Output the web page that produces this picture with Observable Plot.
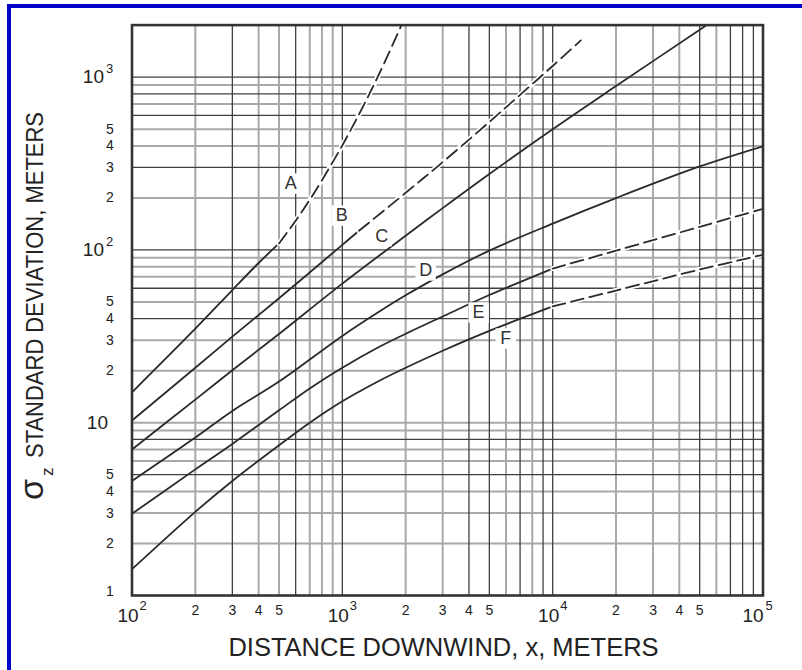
<!DOCTYPE html>
<html>
<head>
<meta charset="utf-8">
<script src="https://cdn.jsdelivr.net/npm/d3@7"></script>
<script src="https://cdn.jsdelivr.net/npm/@observablehq/plot@0.6"></script>
<style>
  html, body { margin: 0; padding: 0; background: #fff; }
  #wrap { position: relative; width: 802px; height: 670px; overflow: hidden; font-family: "Liberation Sans", Arial, sans-serif; }
  #border { position: absolute; left: 7px; top: 4px; width: 800px; height: 700px; border-left: 4px solid #0505c8; border-top: 4px solid #0505c8; border-right: 4px solid #0505c8; box-sizing: border-box; }
  #chart { position: absolute; left: 0; top: 0; }
</style>
</head>
<body>
<div id="wrap"><div id="border"></div><div id="chart"></div></div>
<script>
// ---- data (distance x in m, sigma_z in m) ----
const classA_solid_x = [100, 200, 300, 400, 500];
const classA_solid_y = [15, 35, 58.6, 84, 109];
const classA_dash_x = [500, 600, 700, 800, 1000, 1200, 1400, 1600, 1900];
const classA_dash_y = [109, 147.5, 195, 253, 403, 609, 883, 1241, 1968];

const classB_solid_x = [100, 200, 300, 500, 1000, 1200];
const classB_solid_y = [10.3, 20.8, 31.5, 52.5, 107, 129];
const classB_dash_x = [1200, 2000, 3000, 5000, 7000, 10000, 13600];
const classB_dash_y = [129, 214, 322, 550, 790, 1160, 1630];

const classC_x = [100, 200, 300, 500, 1000, 2000, 3000, 5000, 10000, 20000, 53400];
const classC_y = [7.0, 13.6, 20.1, 32.6, 63.8, 120.7, 174.5, 275, 499, 887, 1983];

const classD_x = [100, 200, 300, 500, 1000, 1500, 2000, 3000, 5000, 10000, 20000, 50000, 100000];
const classD_y = [4.6, 8.2, 11.7, 17.3, 31.8, 44, 54.6, 72.2, 99.1, 142, 199.5, 304, 398];

const classE_solid_x = [100, 200, 300, 500, 700, 1000, 1500, 2000, 3000, 5000, 10000];
const classE_solid_y = [2.97, 5.37, 7.54, 11.8, 15.8, 20.8, 27.5, 32.7, 41.2, 54.8, 78];
const classE_dash_x = [10000, 20000, 50000, 100000];
const classE_dash_y = [78, 99, 136, 173];

const classF_solid_x = [100, 200, 300, 500, 700, 1000, 1500, 2000, 3000, 5000, 10000];
const classF_solid_y = [1.42, 3.05, 4.6, 7.4, 10.0, 13.3, 17.5, 20.8, 26.1, 34.0, 47.1];
const classF_dash_x = [10000, 20000, 50000, 100000];
const classF_dash_y = [47.1, 58.2, 77, 93.7];

const curveLabels = ["A", "B", "C", "D", "E", "F"];
const labelX = [568, 993, 1538, 2489, 4446, 5985];
const labelY = [242, 158, 120, 76, 43.4, 30.7];

// ---- grid & ticks ----
const gridXGray = [200, 400, 500, 700, 800, 900, 2000, 3000, 6000, 8000, 20000, 30000, 40000, 60000];
const gridXDark = [300, 600, 1000, 4000, 5000, 7000, 9000, 10000, 50000, 70000, 80000, 90000];
const gridYGray = [2, 3, 4, 6, 7, 9, 10, 20, 30, 50, 70, 80, 90, 200, 400, 500, 700, 900];
const gridYDark = [5, 8, 40, 60, 100, 300, 600, 800, 1000];

const xDecadeTicks = [100, 1000, 10000];
const xDecadeExp = ["2", "3", "4"];
const xLastTick = [100000];
const xLastExp = ["5"];
const xMinorTicks = [200, 300, 400, 500, 2000, 3000, 4000, 5000, 20000, 30000, 40000, 50000];
const xMinorText = ["2", "3", "4", "5", "2", "3", "4", "5", "2", "3", "4", "5"];

const yPowTicks = [100, 1000];
const yPowExp = ["2", "3"];
const yTenTick = [10];
const yOneTick = [1];
const yMinorTicks = [2, 3, 4, 5, 20, 30, 40, 50, 200, 300, 400, 500];
const yMinorText = ["2", "3", "4", "5", "2", "3", "4", "5", "2", "3", "4", "5"];

const xTitle = "DISTANCE DOWNWIND, x, METERS";
const yTitleSymbol = "σ";
const yTitleSub = "z";
const yTitleText = "STANDARD DEVIATION, METERS";

// ---- build tables ----
const zip = (cls, xs, ys) => xs.map((x, i) => ({cls, x, y: ys[i]}));
const solid = [
  ...zip("A", classA_solid_x, classA_solid_y),
  ...zip("B", classB_solid_x, classB_solid_y),
  ...zip("C", classC_x, classC_y),
  ...zip("D", classD_x, classD_y),
  ...zip("E", classE_solid_x, classE_solid_y),
  ...zip("F", classF_solid_x, classF_solid_y)
];
const dashed = [
  ...zip("A", classA_dash_x, classA_dash_y),
  ...zip("B", classB_dash_x, classB_dash_y),
  ...zip("E", classE_dash_x, classE_dash_y),
  ...zip("F", classF_dash_x, classF_dash_y)
];
const labels = curveLabels.map((t, i) => ({t, x: labelX[i], y: labelY[i]}));
const xDec = xDecadeTicks.map((x, i) => ({x, e: xDecadeExp[i]}));
const xLast = xLastTick.map((x, i) => ({x, e: xLastExp[i]}));
const xMin = xMinorTicks.map((x, i) => ({x, t: xMinorText[i]}));
const yPow = yPowTicks.map((y, i) => ({y, e: yPowExp[i]}));
const yMin = yMinorTicks.map((y, i) => ({y, t: yMinorText[i]}));

const ink = "#222";
const curveInk = "#2a2a2a";
const font = "Liberation Sans, Arial, sans-serif";

const chart = Plot.plot({
  width: 802,
  height: 670,
  marginLeft: 131.5,
  marginRight: 39.5,
  marginTop: 24.6,
  marginBottom: 75,
  x: {type: "log", domain: [100, 100000], axis: null},
  y: {type: "log", domain: [1, 2000], axis: null},
  style: {background: "transparent", fontFamily: font, overflow: "visible"},
  marks: [
    Plot.ruleX(gridXGray, {stroke: "#a8a8a8", strokeWidth: 2}),
    Plot.ruleY(gridYGray, {stroke: "#a8a8a8", strokeWidth: 2}),
    Plot.ruleX(gridXDark, {stroke: "#404040", strokeWidth: 1.3}),
    Plot.ruleY(gridYDark, {stroke: "#404040", strokeWidth: 1.3}),
    Plot.line(solid, {x: "x", y: "y", z: "cls", stroke: curveInk, strokeWidth: 1.8, curve: "catmull-rom", clip: true}),
    Plot.line(dashed, {x: "x", y: "y", z: "cls", stroke: "white", strokeWidth: 5, curve: "catmull-rom", clip: true}),
    Plot.line(dashed, {x: "x", y: "y", z: "cls", stroke: curveInk, strokeWidth: 1.8, strokeDasharray: "13,6", curve: "catmull-rom", clip: true}),
    Plot.dot(labels, {x: "x", y: "y", symbol: "square", r: 11.5, fill: "white", stroke: null}),
    Plot.text(labels, {x: "x", y: "y", text: "t", fontSize: 18, fill: "#333"}),
    Plot.frame({stroke: "#333", strokeWidth: 2.6}),
    // x tick labels
    Plot.text(xDec, {x: "x", y: () => 1, text: () => "10", fontSize: 19, fill: ink, dx: -4, dy: 20}),
    Plot.text(xDec, {x: "x", y: () => 1, text: "e", fontSize: 13, fill: ink, textAnchor: "start", dx: 7.5, dy: 10}),
    Plot.text(xLast, {x: "x", y: () => 1, text: () => "10", fontSize: 19, fill: ink, dx: -10, dy: 20}),
    Plot.text(xLast, {x: "x", y: () => 1, text: "e", fontSize: 13, fill: ink, textAnchor: "start", dx: 2.5, dy: 10}),
    Plot.text(xMin, {x: "x", y: () => 1, text: "t", fontSize: 14, fill: ink, dy: 15}),
    // y tick labels
    Plot.text(yPow, {x: () => 100, y: "y", text: () => "10", fontSize: 19, fill: ink, textAnchor: "end", dx: -28}),
    Plot.text(yPow, {x: () => 100, y: "y", text: "e", fontSize: 13, fill: ink, textAnchor: "start", dx: -26, dy: -8}),
    Plot.text(yTenTick, {x: () => 100, y: d => d, text: () => "10", fontSize: 19, fill: ink, textAnchor: "end", dx: -24}),
    Plot.text(yOneTick, {x: () => 100, y: d => d, text: () => "1", fontSize: 14, fill: ink, dx: -22, dy: -4}),
    Plot.text(yMin, {x: () => 100, y: "y", text: "t", fontSize: 14, fill: ink, dx: -22}),
    // x axis title
    Plot.text([xTitle], {frameAnchor: "bottom", text: d => d, fontSize: 25.5, fill: ink, lineAnchor: "middle", dy: 52, dx: -4})
  ]
});
document.getElementById("chart").appendChild(chart);

// y-axis title (rotated, with subscript), added to the same SVG
const svg = d3.select(chart);
const addRot = (x, y, size, txt, len) => {
  const t = svg.append("text")
    .attr("transform", `translate(${x},${y}) rotate(-90)`)
    .attr("font-family", font)
    .attr("font-size", size)
    .attr("text-anchor", "start")
    .attr("fill", ink)
    .text(txt);
  if (len) t.attr("textLength", len).attr("lengthAdjust", "spacingAndGlyphs");
  return t;
};
addRot(43, 500, 34, yTitleSymbol);
addRot(53, 476, 17, yTitleSub);
addRot(43, 458, 23, yTitleText, 346);
</script>
</body>
</html>
